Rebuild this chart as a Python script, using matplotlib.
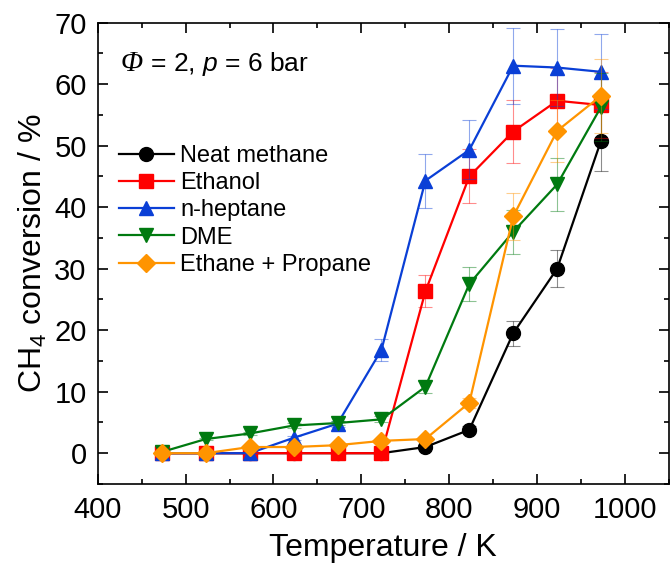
import matplotlib.pyplot as plt
from matplotlib.ticker import MultipleLocator

plt.rcParams['font.family'] = ['Liberation Sans', 'DejaVu Sans']
plt.rcParams['mathtext.fontset'] = 'custom'
plt.rcParams['mathtext.rm'] = 'Liberation Sans'
plt.rcParams['mathtext.it'] = 'Liberation Sans:italic'

# Reactor temperature (K)
temperature = [473, 523, 573, 623, 673, 723, 773, 823, 873, 923, 973]

# CH4 conversion (%) and uncertainty for each additive
methane = [0, 0, 0, 0, 0, 0, 1.0, 3.8, 19.5, 30.0, 50.8]
methane_err = [0, 0, 0, 0, 0, 0, 0.3, 0.6, 2.0, 3.0, 5.0]
ethanol = [0, 0, 0, 0, 0, 0, 26.3, 45.0, 52.3, 57.3, 56.6]
ethanol_err = [0, 0, 0, 0, 0, 0, 2.6, 4.4, 5.2, 5.3, 5.3]
heptane = [0, 0, 0, 2.5, 4.8, 16.8, 44.3, 49.3, 63.0, 62.7, 62.0]
heptane_err = [0, 0, 0, 0.3, 0.5, 1.8, 4.4, 4.8, 6.2, 6.2, 6.1]
dme = [0.2, 2.3, 3.2, 4.5, 4.9, 5.5, 10.8, 27.5, 36.0, 43.7, 56.3]
dme_err = [0, 0.2, 0.3, 0.4, 0.4, 0.5, 1.0, 2.7, 3.6, 4.3, 5.5]
ethprop = [0, 0, 1.0, 1.0, 1.3, 2.0, 2.3, 8.2, 38.5, 52.4, 58.1]
ethprop_err = [0, 0, 0.1, 0.1, 0.1, 0.2, 0.2, 0.8, 3.8, 5.0, 6.0]

series = [
    ('Neat methane', methane, methane_err, 'black', 'o'),
    ('Ethanol', ethanol, ethanol_err, '#ff0000', 's'),
    ('n-heptane', heptane, heptane_err, '#0a3fd6', '^'),
    ('DME', dme, dme_err, '#007a10', 'v'),
    ('Ethane + Propane', ethprop, ethprop_err, '#ff9400', 'D'),
]

fig = plt.figure(figsize=(6.7, 5.66), dpi=100)
ax = fig.add_axes([0.146, 0.145, 0.852, 0.815])

for label, y, err, color, marker in series:
    ax.errorbar(temperature, y, yerr=err, fmt='none', ecolor=color,
                elinewidth=0.8, capsize=5, capthick=0.8, alpha=0.45)
    ms = 9 if marker == 'D' else 10
    ax.plot(temperature, y, color=color, marker=marker, markersize=ms,
            linewidth=1.6, label=label)

ax.set_xlim(400, 1050)
ax.set_ylim(-5, 70)
ax.xaxis.set_major_locator(MultipleLocator(100))
ax.xaxis.set_minor_locator(MultipleLocator(50))
ax.yaxis.set_major_locator(MultipleLocator(10))
ax.yaxis.set_minor_locator(MultipleLocator(5))
ax.set_xticks(range(400, 1001, 100))
ax.tick_params(which='both', direction='in', top=True, right=True,
               labelsize=21, width=1.2)
ax.tick_params(which='major', length=7)
ax.tick_params(axis='x', which='major', pad=9)
ax.tick_params(axis='y', which='major', pad=8)
ax.tick_params(which='minor', length=3.5)
for s in ax.spines.values():
    s.set_linewidth(1.2)

ax.set_xlabel('Temperature / K', fontsize=23, labelpad=6)
ax.set_ylabel('CH$_4$ conversion / %', fontsize=23, labelpad=4)

# condition label: italic serif Phi, then the rest on the same baseline
text_y = 0.895
phi = ax.text(0.04, text_y, 'Φ', transform=ax.transAxes, fontsize=21,
              family='Liberation Serif', style='italic',
              va='baseline', ha='left')
fig.canvas.draw()
phi_right = ax.transAxes.inverted().transform(
    (phi.get_window_extent().x1, 0))[0]
ax.text(phi_right, text_y, r' = 2, $\mathit{p}$ = 6 bar',
        transform=ax.transAxes, fontsize=19, va='baseline', ha='left')

ax.legend(loc='upper left', bbox_to_anchor=(0.02, 0.755), frameon=False,
          fontsize=17, handlelength=2.35, handletextpad=0.25,
          labelspacing=0.22, borderaxespad=0)

fig.savefig('out.png', dpi=100)
